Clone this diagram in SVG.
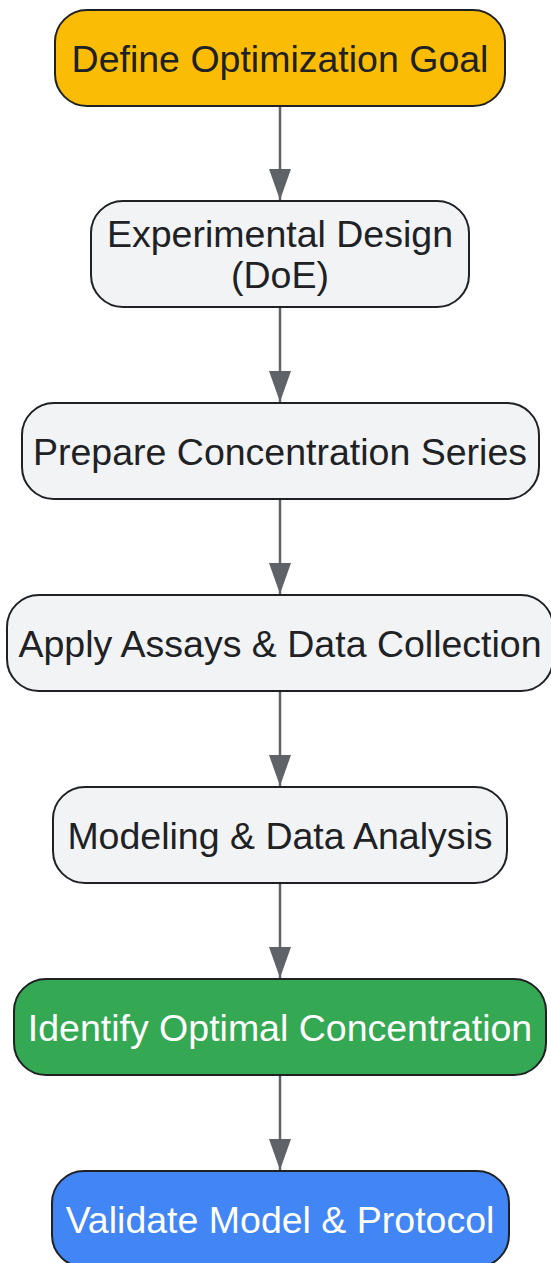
<svg xmlns="http://www.w3.org/2000/svg" width="551" height="1263" viewBox="0 0 551 1263">
<style>
.n{stroke:#202124;stroke-width:2}
.g{fill:#F1F3F4}
.t{font-family:"Liberation Sans",Arial,sans-serif;font-size:37.5px;text-anchor:middle;fill:#202124}
.w{fill:#FFFFFF}
.e{stroke:#5F6368;stroke-width:2.5;fill:none}
</style>
<defs>
<marker id="ah" markerUnits="userSpaceOnUse" markerWidth="32" markerHeight="22" refX="31" refY="11" orient="auto" viewBox="0 0 32 22">
<path d="M0,0 L31,11 L0,22 Z" fill="#5F6368"/>
</marker>
</defs>
<g id="edges">
<line class="e" x1="280" y1="106" x2="280" y2="200" marker-end="url(#ah)"/>
<line class="e" x1="280" y1="307" x2="280" y2="402" marker-end="url(#ah)"/>
<line class="e" x1="280" y1="499" x2="280" y2="594" marker-end="url(#ah)"/>
<line class="e" x1="280" y1="691" x2="280" y2="786" marker-end="url(#ah)"/>
<line class="e" x1="280" y1="883" x2="280" y2="978" marker-end="url(#ah)"/>
<line class="e" x1="280" y1="1075" x2="280" y2="1170" marker-end="url(#ah)"/>
</g>
<g id="n1">
<rect class="n" x="55" y="10" width="450" height="96" rx="32" fill="#FBBC05"/>
<text class="t" x="280" y="72">Define Optimization Goal</text>
</g>
<g id="n2">
<rect class="n g" x="91" y="201" width="378" height="106" rx="32"/>
<text class="t" x="280" y="247">Experimental Design</text>
<text class="t" x="280" y="288">(DoE)</text>
</g>
<g id="n3">
<rect class="n g" x="22" y="403" width="517" height="96" rx="32"/>
<text class="t" x="280" y="465">Prepare Concentration Series</text>
</g>
<g id="n4">
<rect class="n g" x="7" y="595" width="546" height="96" rx="32"/>
<text class="t" x="280" y="657">Apply Assays &amp; Data Collection</text>
</g>
<g id="n5">
<rect class="n g" x="53" y="787" width="454" height="96" rx="32"/>
<text class="t" x="280" y="849">Modeling &amp; Data Analysis</text>
</g>
<g id="n6">
<rect class="n" x="14" y="979" width="532" height="96" rx="32" fill="#34A853"/>
<text class="t w" x="280" y="1041">Identify Optimal Concentration</text>
</g>
<g id="n7">
<rect class="n" x="52" y="1171" width="457" height="96" rx="32" fill="#4285F4"/>
<text class="t w" x="280" y="1233">Validate Model &amp; Protocol</text>
</g>
</svg>
